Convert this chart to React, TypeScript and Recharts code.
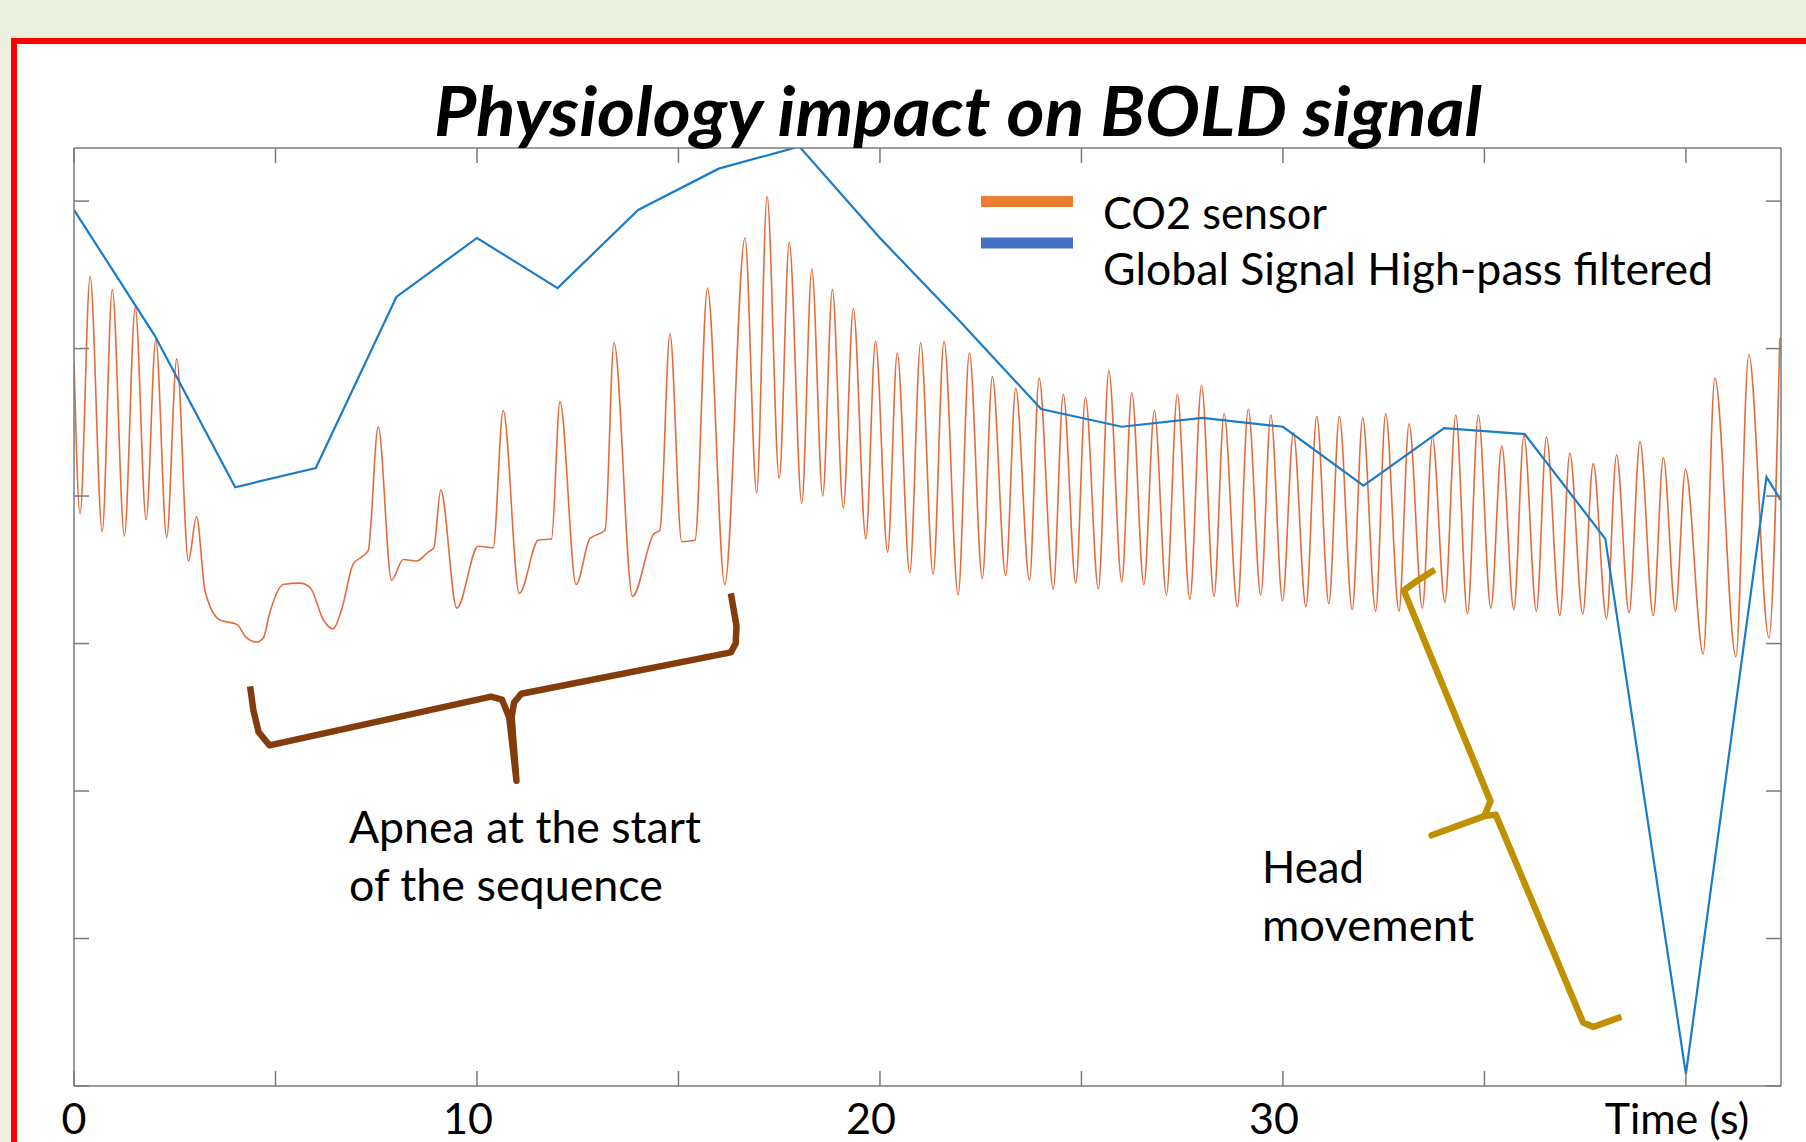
import { LineChart, Line, XAxis, YAxis } from "recharts";

// CO2 sensor trace: turning points (seconds, arbitrary units)
const co2Times = [
  0.0, 0.15, 0.4, 0.7, 0.95, 1.25, 1.52, 1.79, 2.03, 2.3, 2.55, 2.84, 3.04, 3.25, 3.62, 4.04,
  4.28, 4.53, 4.7, 4.86, 5.19, 5.61, 5.86, 6.19, 6.43, 6.64, 6.93, 7.1, 7.3, 7.55, 7.88, 8.17,
  8.5, 8.79, 8.93, 9.1, 9.5, 10.03, 10.4, 10.65, 11.05, 11.52, 11.85, 12.06, 12.46, 12.8, 13.18,
  13.4, 13.86, 14.38, 14.54, 14.79, 15.08, 15.41, 15.72, 16.15, 16.65, 16.94, 17.2, 17.5, 17.75,
  18.06, 18.31, 18.58, 18.82, 19.09, 19.34, 19.65, 19.89, 20.19, 20.43, 20.74, 21.01, 21.32,
  21.59, 21.94, 22.22, 22.54, 22.79, 23.12, 23.37, 23.71, 23.95, 24.3, 24.55, 24.86, 25.1, 25.42,
  25.68, 26.0, 26.25, 26.55, 26.81, 27.11, 27.38, 27.69, 27.98, 28.29, 28.54, 28.87, 29.14,
  29.45, 29.7, 29.99, 30.26, 30.57, 30.84, 31.14, 31.4, 31.72, 31.98, 32.3, 32.55, 32.88, 33.13,
  33.46, 33.71, 34.02, 34.29, 34.58, 34.85, 35.16, 35.43, 35.73, 35.98, 36.29, 36.54, 36.87,
  37.12, 37.44, 37.7, 38.03, 38.28, 38.59, 38.86, 39.19, 39.44, 39.74, 39.99, 40.43, 40.72,
  41.24, 41.56, 42.06, 42.33,
];
const co2Values = [
  4.91, 3.88, 5.49, 3.76, 5.4, 3.73, 5.28, 3.84, 5.06, 3.72, 4.93, 3.56, 3.86, 3.36, 3.16, 3.13,
  3.04, 3.01, 3.04, 3.21, 3.4, 3.41, 3.38, 3.16, 3.1, 3.23, 3.54, 3.58, 3.63, 4.47, 3.43, 3.57,
  3.56, 3.62, 3.65, 4.04, 3.24, 3.66, 3.65, 4.58, 3.34, 3.7, 3.71, 4.64, 3.4, 3.71, 3.77,
  5.04, 3.32, 3.74, 3.77, 5.1, 3.69, 3.7, 5.41, 3.4, 5.75, 4.02, 6.03, 4.12, 5.72,
  3.95, 5.54, 4.0, 5.4, 3.92, 5.27, 3.71, 5.05, 3.62, 4.97, 3.48, 5.04, 3.47,
  5.05, 3.33, 4.97, 3.44, 4.81, 3.46, 4.73, 3.43, 4.8, 3.37, 4.69, 3.41, 4.67, 3.37,
  4.85, 3.42, 4.7, 3.4, 4.58, 3.33, 4.69, 3.3, 4.75, 3.32, 4.56, 3.25, 4.59,
  3.33, 4.55, 3.29, 4.43, 3.25, 4.54, 3.27, 4.54, 3.23, 4.53, 3.22, 4.56, 3.22, 4.49,
  3.24, 4.4, 3.28, 4.55, 3.2, 4.55, 3.24, 4.34, 3.23, 4.41, 3.22, 4.4, 3.19,
  4.29, 3.2, 4.22, 3.17, 4.28, 3.21, 4.37, 3.19, 4.26, 3.22, 4.18, 2.93, 4.8,
  2.91, 4.96, 3.04, 5.07,
];

// Global signal, high-pass filtered: one sample per TR (2 s)
const boldTimes = [0, 2, 4, 6, 8, 10, 12, 14, 16, 18, 20, 22, 24, 26, 28, 30, 32, 34, 36, 38, 40, 42, 42.36];
const boldValues = [5.94, 5.09, 4.06, 4.19, 5.35, 5.75, 5.41, 5.94, 6.22, 6.37, 5.75, 5.18, 4.59, 4.47, 4.53, 4.47, 4.07, 4.46, 4.42, 3.71, 0.08, 4.13, 3.97];

// annotation braces, in data coordinates
const apneaBraceT = [4.37, 4.45, 4.58, 4.85, 10.35, 10.62, 10.8, 10.98, 10.86, 10.92, 11.1, 16.3, 16.42, 16.44, 16.3];
const apneaBraceV = [2.71, 2.55, 2.4, 2.31, 2.64, 2.62, 2.5, 2.07, 2.5, 2.6, 2.66, 2.94, 3.0, 3.12, 3.34];
const headBraceT = [33.77, 33.3, 33.0, 35.15, 35.0, 33.69, 35.0, 35.28, 37.45, 37.7, 38.4];
const headBraceV = [3.5, 3.42, 3.36, 1.93, 1.83, 1.7, 1.83, 1.84, 0.43, 0.4, 0.47];

const xTicks = [0, 5, 10, 15, 20, 25, 30, 35, 40];
const xLabels: Record<number, string> = { 0: "0", 10: "10", 20: "20", 30: "30", 40: "Time (s)" };
const yTicks = [0, 1, 2, 3, 4, 5, 6];

const zip = (ts: number[], vs: number[]) => ts.map((t, i) => ({ t, v: vs[i] }));
const co2Data = zip(co2Times, co2Values);
const boldData = zip(boldTimes, boldValues);
const apneaBrace = zip(apneaBraceT, apneaBraceV);
const headBrace = zip(headBraceT, headBraceV);

const FONT = "Lato, 'Open Sans', sans-serif";
const AXIS = "#7a7a7a";
const TICK = 15;

function BottomTick({ x, y, payload }: any) {
  const label = xLabels[payload.value];
  return (
    <g>
      <line x1={x} y1={y} x2={x} y2={y - TICK} stroke={AXIS} strokeWidth={1.5} />
      {label && (
        <text
          x={payload.value === 0 ? x : x - 9}
          y={y + 48}
          textAnchor="middle"
          fontFamily={FONT}
          fontSize={43}
          fill="#000"
        >
          {label}
        </text>
      )}
    </g>
  );
}

function TopTick({ x, y }: any) {
  return <line x1={x} y1={y} x2={x} y2={y + TICK} stroke={AXIS} strokeWidth={1.5} />;
}

function LeftTick({ x, y }: any) {
  return <line x1={x} y1={y} x2={x + TICK} y2={y} stroke={AXIS} strokeWidth={1.5} />;
}

function RightTick({ x, y }: any) {
  return <line x1={x} y1={y} x2={x - TICK} y2={y} stroke={AXIS} strokeWidth={1.5} />;
}

export default function App() {
  const xDomain: [number, number] = [0, 42.36];
  const yDomain: [number, number] = [0, 6.36];
  return (
    <div
      style={{
        position: "absolute",
        left: 0,
        top: 0,
        width: 1806,
        height: 1142,
        background: "#EBF1DE",
        overflow: "hidden",
      }}
    >
      <div
        style={{
          position: "absolute",
          left: 11,
          top: 38,
          width: 1830,
          height: 1160,
          border: "6px solid #FF0000",
          background: "#fff",
        }}
      />
      <div style={{ position: "absolute", left: 0, top: 0 }}>
        <LineChart width={1806} height={1142} margin={{ top: 147, right: 24, bottom: 6, left: 73 }}>
          <XAxis
            dataKey="t"
            type="number"
            domain={xDomain}
            ticks={xTicks}
            interval={0}
            allowDataOverflow
            height={50}
            tickSize={0}
            tickMargin={0}
            axisLine={{ stroke: AXIS, strokeWidth: 1.5 }}
            tick={<BottomTick />}
          />
          <XAxis
            xAxisId="top"
            orientation="top"
            dataKey="t"
            type="number"
            domain={xDomain}
            ticks={xTicks}
            interval={0}
            allowDataOverflow
            height={1}
            tickSize={0}
            tickMargin={0}
            axisLine={{ stroke: AXIS, strokeWidth: 1.5 }}
            tick={<TopTick />}
          />
          <YAxis
            type="number"
            domain={yDomain}
            ticks={yTicks}
            interval={0}
            allowDataOverflow
            width={1}
            tickSize={0}
            tickMargin={0}
            axisLine={{ stroke: AXIS, strokeWidth: 1.5 }}
            tick={<LeftTick />}
          />
          <YAxis
            yAxisId="right"
            orientation="right"
            type="number"
            domain={yDomain}
            ticks={yTicks}
            interval={0}
            allowDataOverflow
            width={1}
            tickSize={0}
            tickMargin={0}
            axisLine={{ stroke: AXIS, strokeWidth: 1.5 }}
            tick={<RightTick />}
          />
          <Line
            data={co2Data}
            dataKey="v"
            type="monotone"
            stroke="#E46C3C"
            strokeWidth={1.6}
            dot={false}
            isAnimationActive={false}
          />
          <Line
            data={boldData}
            dataKey="v"
            type="linear"
            stroke="#1A7BC9"
            strokeWidth={2.2}
            dot={false}
            isAnimationActive={false}
          />
          <Line
            data={apneaBrace}
            dataKey="v"
            type="linear"
            stroke="#843C0C"
            strokeWidth={6.5}
            strokeLinejoin="round"
            dot={false}
            isAnimationActive={false}
          />
          <Line
            data={headBrace}
            dataKey="v"
            type="linear"
            stroke="#BF9000"
            strokeWidth={6.5}
            strokeLinejoin="round"
            dot={false}
            isAnimationActive={false}
          />
        </LineChart>
      </div>
      <svg
        width={1806}
        height={1142}
        style={{ position: "absolute", left: 0, top: 0, pointerEvents: "none" }}
        fontFamily={FONT}
      >
        <text
          x={958}
          y={136}
          textAnchor="middle"
          fontSize={68}
          fontWeight={700}
          fontStyle="italic"
          textLength={1048}
          lengthAdjust="spacingAndGlyphs"
        >
          Physiology impact on BOLD signal
        </text>
        {/* legend */}
        <line x1={981} x2={1073} y1={201.5} y2={201.5} stroke="#ED7D31" strokeWidth={11} />
        <line x1={981} x2={1073} y1={243} y2={243} stroke="#4472C4" strokeWidth={11} />
        <text x={1103} y={229} fontSize={44} textLength={224} lengthAdjust="spacingAndGlyphs">
          CO2 sensor
        </text>
        <text x={1103} y={285} fontSize={44} textLength={610} lengthAdjust="spacingAndGlyphs">
          Global Signal High-pass filtered
        </text>
        {/* annotations */}
        <text x={349} y={843} fontSize={44} textLength={352} lengthAdjust="spacingAndGlyphs">
          Apnea at the start
        </text>
        <text x={349} y={901} fontSize={44} textLength={314} lengthAdjust="spacingAndGlyphs">
          of the sequence
        </text>
        <text x={1262} y={883} fontSize={44} textLength={102} lengthAdjust="spacingAndGlyphs">
          Head
        </text>
        <text x={1262} y={941} fontSize={44} textLength={212} lengthAdjust="spacingAndGlyphs">
          movement
        </text>
      </svg>
    </div>
  );
}
